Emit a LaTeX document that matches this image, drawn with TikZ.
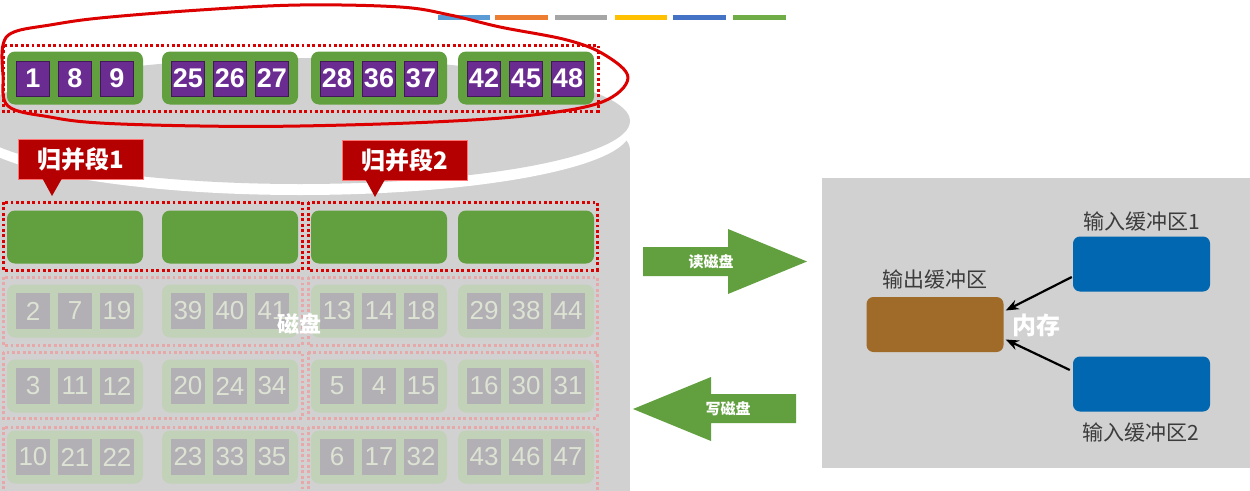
\documentclass[tikz,border=0pt]{standalone}
\usepackage{fontspec}
\setmainfont{Noto Sans CJK SC}
\newfontfamily\numfont{Liberation Sans}
\usetikzlibrary{arrows.meta,calc}
\definecolor{diskgrey}{HTML}{D1D1D1}
\definecolor{grn}{HTML}{62A03F}
\definecolor{purp}{HTML}{6A2C91}
\definecolor{dred}{HTML}{B40000}
\definecolor{dotred}{HTML}{D80000}
\definecolor{handred}{HTML}{DC0000}
\definecolor{fgreen}{HTML}{C2D2B8}
\definecolor{fsq}{HTML}{B2AFB5}
\definecolor{fnum}{HTML}{DCE3D3}
\definecolor{fdot}{HTML}{E6A8A8}
\definecolor{brownbuf}{HTML}{A06A28}
\definecolor{memblue}{HTML}{0067B0}
\definecolor{lblgrey}{HTML}{3C3C3C}
\definecolor{barA}{HTML}{5B9BD5}
\definecolor{barB}{HTML}{ED7D31}
\definecolor{barC}{HTML}{A5A5A5}
\definecolor{barD}{HTML}{FFC000}
\definecolor{barE}{HTML}{4472C4}
\definecolor{barF}{HTML}{70AD47}
\begin{document}
\begin{tikzpicture}[x=1pt,y=-1pt,
  grp/.style={fill=grn, rounded corners=8pt, minimum width=136pt, minimum height=53pt, inner sep=0pt},
  fgrp/.style={fill=fgreen, rounded corners=8pt, minimum width=136pt, minimum height=53pt, inner sep=0pt},
  sq/.style={fill=purp, draw=purp!60!black, line width=0.6pt, minimum width=33pt, minimum height=35pt, inner sep=0pt, text=white, font=\numfont\bfseries\fontsize{27}{27}\selectfont},
  fsqs/.style={fill=fsq, minimum width=34pt, minimum height=36pt, inner sep=0pt, text=fnum, font=\numfont\fontsize{26}{26}\selectfont},
  dotbox/.style={draw=dotred, line width=3pt, dash pattern=on 2.8pt off 2.6pt},
  fdotbox/.style={draw=fdot, line width=3pt, dash pattern=on 2.8pt off 2.6pt},
  callbox/.style={fill=dred, draw=red!55!white, line width=0.6pt, text=white, font=\bfseries\fontsize{24}{24}\selectfont, minimum width=125pt, minimum height=40pt, inner sep=0pt},
  buf/.style={rounded corners=7pt, minimum width=137pt, minimum height=55pt, inner sep=0pt},
  lbl/.style={text=lblgrey, font=\fontsize{21}{21}\selectfont, inner sep=0pt},
  arrlbl/.style={text=white, font=\bfseries\fontsize{15}{15}\selectfont, inner sep=0pt},
]
\useasboundingbox (0,0) rectangle (1250,490);
\clip (0,0) rectangle (1250,490);
\fill[white] (0,0) rectangle (1250,490);

% legend colour bars
\foreach \xa/\xb/\cc in {438/490/barA, 495/548/barB, 555/607/barC, 615/667/barD, 673/726/barE, 733/786/barF}
  \fill[\cc] (\xa,15) rectangle (\xb,20);

% disk cylinder
\fill[diskgrey] (-40,150) rectangle (630,495);
\fill[diskgrey] (300,150) ellipse [x radius=330, y radius=64];
\fill[white] (300,131) ellipse [x radius=330, y radius=64];
\fill[diskgrey] (300,121) ellipse [x radius=330, y radius=63];

% top row (merged run)
\draw[dotbox] (3,45) rectangle (598,111);
\foreach \gx/\a/\b/\c [count=\k] in {75/1/8/9, 230/25/26/27, 379/28/36/37, 526/42/45/48} {
  \node[grp] (t\k) at (\gx,78) {};
  \node[sq] (t\k a) at ($(t\k.center)+(-42,0.5)$) {\a};
  \node[sq] (t\k b) at ($(t\k.center)+(0,0.5)$) {\b};
  \node[sq] (t\k c) at ($(t\k.center)+(42,0.5)$) {\c};
}

% hand drawn red ellipse
\draw[handred, line width=3pt, line join=round] plot[smooth cycle, tension=0.6] coordinates {
  (3,45) (14,32) (50,25) (100,18) (200,10) (300,5) (400,7) (450,15) (500,27) (567,40)
  (605,55) (628,78) (602,102) (533,115) (433,122) (300,126) (200,126) (100,123) (50,117) (8,106) (3,75)};

% second row (empty green blocks)
\draw[dotbox] (3,202) rectangle (302,270);
\draw[dotbox] (308,202) rectangle (597,270);
\foreach \gx [count=\k] in {75,230,379,526}
  \node[grp] (e\k) at (\gx,237) {};

% callouts
\node[callbox] (c1) at (80.5,159) {归并段1};
\fill[dred] ($(c1.south west)+(25,-0.3)$) -- ($(c1.south west)+(44,-0.3)$) -- (52,196) -- cycle;
\node[callbox] (c2) at (404.5,160) {归并段2};
\fill[dred] ($(c2.south west)+(24,-0.3)$) -- ($(c2.south west)+(43,-0.3)$) -- (375,197) -- cycle;

% faded rows
\foreach \ya/\yb in {277/345, 352/418, 427/495} {
  \draw[fdotbox] (3,\ya) rectangle (302,\yb);
  \draw[fdotbox] (308,\ya) rectangle (597,\yb);
}
\foreach \yy/\gx/\a/\b/\c [count=\k] in {
  311/75/2/7/19, 311/230/39/40/41, 311/379/13/14/18, 311/526/29/38/44,
  386/75/3/11/12, 386/230/20/24/34, 386/379/5/4/15, 386/526/16/30/31,
  457/75/10/21/22, 457/230/23/33/35, 457/379/6/17/32, 457/526/43/46/47} {
  \node[fgrp] (f\k) at (\gx,\yy) {};
  \node[fsqs] (f\k a) at ($(f\k.center)+(-42,0)$) {\a};
  \node[fsqs] (f\k b) at ($(f\k.center)+(0,0)$) {\b};
  \node[fsqs] (f\k c) at ($(f\k.center)+(42,0)$) {\c};
}
\node[text=white, font=\bfseries\fontsize{22}{22}\selectfont, inner sep=0pt] (disk) at (299,324) {磁盘};

% read / write arrows
\fill[grn] (643,247) -- (728,247) -- (728,229) -- (807,261.5) -- (728,294) -- (728,276) -- (643,276) -- cycle;
\node[arrlbl] (rd) at (711,262) {读磁盘};
\fill[grn] (796,394) -- (711,394) -- (711,377) -- (633,409) -- (711,441) -- (711,423) -- (796,423) -- cycle;
\node[arrlbl] (wr) at (728,409) {写磁盘};

% memory
\fill[diskgrey] (822,178) rectangle (1250,468);
\node[buf, fill=brownbuf] (out) at (935,324.5) {};
\node[buf, fill=memblue] (in1) at (1141.5,264) {};
\node[buf, fill=memblue] (in2) at (1141.5,384) {};
\node[lbl] (outl) at (935,280) {输出缓冲区};
\node[lbl] (in1l) at (1142,222) {输入缓冲区1};
\node[lbl] (in2l) at (1141,433) {输入缓冲区2};
\node[text=white, font=\bfseries\fontsize{24}{24}\selectfont, inner sep=0pt] (memt) at (1036,325) {内存};
\draw[-{Stealth[length=13pt,width=10pt]}, line width=2.2pt] ($(in1.west)+(-1,13)$) -- ($(out.east)+(2,-14)$);
\draw[-{Stealth[length=13pt,width=10pt]}, line width=2.2pt] ($(in2.west)+(-3,-14)$) -- ($(out.east)+(2,15)$);
\end{tikzpicture}
\end{document}
